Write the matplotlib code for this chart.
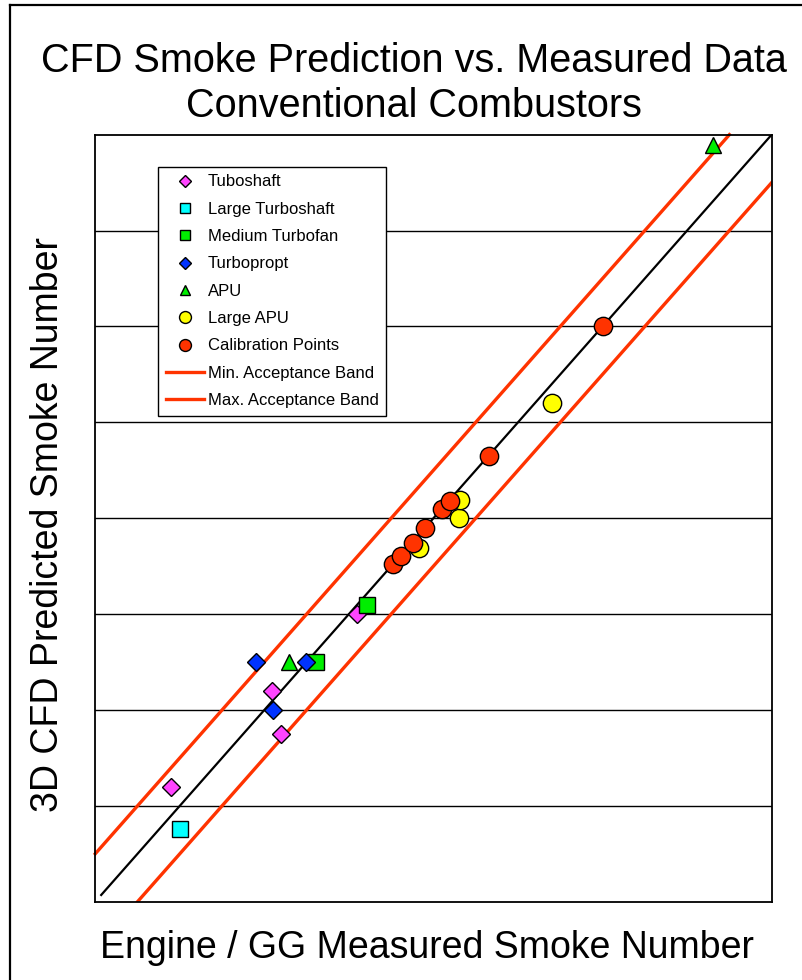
import matplotlib
matplotlib.use('Agg')
import matplotlib.pyplot as plt
from matplotlib.lines import Line2D

plt.rcParams['font.family'] = ['Liberation Sans', 'DejaVu Sans']

# measured (x) vs predicted (y) smoke number
tuboshaft_x = [0.89, 2.09, 2.20, 3.09]
tuboshaft_y = [1.20, 2.20, 1.75, 3.00]

large_turboshaft_x = [1.00]
large_turboshaft_y = [0.76]

medium_turbofan_x = [2.61, 3.21]
medium_turbofan_y = [2.50, 3.09]

turboprop_x = [1.90, 2.10, 2.49]
turboprop_y = [2.50, 2.00, 2.50]

apu_x = [2.29, 7.31]
apu_y = [2.50, 7.89]

large_apu_x = [3.83, 4.30, 4.31, 5.40]
large_apu_y = [3.69, 4.00, 4.19, 5.20]

calib_x = [3.52, 3.61, 3.76, 3.90, 4.10, 4.20, 4.66, 6.00]
calib_y = [3.52, 3.61, 3.74, 3.90, 4.10, 4.18, 4.65, 6.00]

ideal_x = [0.07, 8.0]
min_band_x = [0.5, 8.0]
max_band_x = [0.0, 7.5]
band = 0.5

fig = plt.figure(figsize=(8.02, 9.8), dpi=100)
ax = fig.add_axes([0.1188, 0.0799, 0.8434, 0.7827])

ax.set_xlim(0, 8)
ax.set_ylim(0, 8)
ax.set_xticks([])
ax.set_yticks(range(1, 8))
ax.tick_params(left=False, labelleft=False)
ax.yaxis.grid(True, color='black', linewidth=1.0, zorder=0)
ax.set_axisbelow(True)
for s in ax.spines.values():
    s.set_linewidth(1.3)

ax.plot(ideal_x, ideal_x, color='black', lw=1.6, zorder=2)
l_min, = ax.plot(min_band_x, [v - band for v in min_band_x], color='#ff3300', lw=2.4,
                 zorder=2, label='Min. Acceptance Band')
l_max, = ax.plot(max_band_x, [v + band for v in max_band_x], color='#ff3300', lw=2.4,
                 zorder=2, label='Max. Acceptance Band', clip_on=False)

mk = dict(linestyle='none', markeredgecolor='black', markeredgewidth=1.0, zorder=3)
h1, = ax.plot(tuboshaft_x, tuboshaft_y, marker='D', ms=9, color='#ff44ff', label='Tuboshaft', **mk)
h2, = ax.plot(large_turboshaft_x, large_turboshaft_y, marker='s', ms=11.5, color='#00ffff',
              label='Large Turboshaft', **mk)
h3, = ax.plot(medium_turbofan_x, medium_turbofan_y, marker='s', ms=11.5, color='#00ee00',
              label='Medium Turbofan', **mk)
h4, = ax.plot(turboprop_x, turboprop_y, marker='D', ms=9, color='#0033ff', label='Turbopropt', **mk)
h5, = ax.plot(apu_x, apu_y, marker='^', ms=12, color='#00ee00', label='APU', **mk)
h6, = ax.plot(large_apu_x, large_apu_y, marker='o', ms=13.2, color='#ffff00', label='Large APU', **mk)
h7, = ax.plot(calib_x, calib_y, marker='o', ms=13.2, color='#ff3300', label='Calibration Points', **mk)

leg = ax.legend(handles=[h1, h2, h3, h4, h5, h6, h7, l_min, l_max],
                loc='upper left', bbox_to_anchor=(158 / 802, 1 - 167 / 980),
                bbox_transform=fig.transFigure, borderaxespad=0,
                fontsize=12, markerscale=0.65, handlelength=2.3, handletextpad=0.25,
                labelspacing=0.74, borderpad=0.45, fancybox=False, framealpha=1,
                edgecolor='black')
leg.get_frame().set_linewidth(1.0)
leg.set_zorder(5)

fig.text(0.516, 1 - 72 / 980, 'CFD Smoke Prediction vs. Measured Data', ha='center',
         va='baseline', fontsize=28.5)
fig.text(0.516, 1 - 117 / 980, 'Conventional Combustors', ha='center',
         va='baseline', fontsize=28.5)
fig.text(0.532, 1 - 948 / 980, 'Engine / GG Measured Smoke Number', ha='center',
         va='center', fontsize=27)
fig.text(48 / 802, 1 - 525 / 980, '3D CFD Predicted Smoke Number', ha='center',
         va='center', rotation=90, fontsize=27)

# outer frame (left and top edges)
fig.add_artist(Line2D([10 / 802, 10 / 802], [0, 1 - 5 / 980], color='black', lw=1.6,
                      transform=fig.transFigure))
fig.add_artist(Line2D([10 / 802, 1], [1 - 5 / 980, 1 - 5 / 980], color='black', lw=1.6,
                      transform=fig.transFigure))

fig.savefig('out.png', dpi=100)
